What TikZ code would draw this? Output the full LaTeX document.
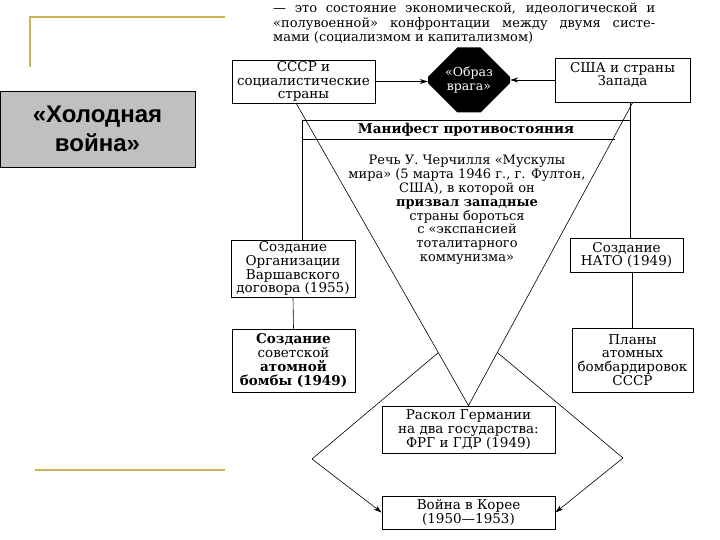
\documentclass[tikz,border=0pt]{standalone}
\usepackage{fontspec}
\setmainfont{DejaVu Serif}
\newfontfamily\titlefont{Liberation Sans}
\usetikzlibrary{arrows.meta,shapes.misc,calc}

\definecolor{gold}{RGB}{204,178,84}
\definecolor{slidegray}{RGB}{192,192,192}

\tikzset{
  box/.style={draw, line width=0.8pt, align=center, inner sep=1pt,
    font=\fontsize{13.5}{13.8}\selectfont},
  link/.style={line width=0.6pt},
  arrow/.style={link, -{Stealth[length=8pt,width=5pt]}},
  goldline/.style={line width=2.4pt, gold},
}

\begin{document}
\begin{tikzpicture}[x=1pt,y=-1pt]
  \useasboundingbox (0,0) rectangle (720,540);

  % Slide frame
  \draw[goldline] (30,67) -- (30,17) -- (225,17);
  \draw[goldline] (35,470) -- (225,470);
  \node[draw, fill=slidegray, line width=0.8pt, minimum width=195, minimum height=76,
    align=center, font=\titlefont\bfseries\fontsize{24}{29}\selectfont]
    (title) at (97.5,129) {«Холодная\\война»};

  % Definition
  \node[anchor=north west, inner sep=0pt, text width=382pt, align=justify,
    font=\fontsize{13}{14.5}\selectfont] (def) at (273,3)
    {— это состояние экономической, идеологической и\linebreak
     «полувоенной» конфронтации между двумя систе-\linebreak
     мами (социализмом и капитализмом)};

  % Top row
  \node[box, minimum width=143, minimum height=43] (ussr) at (303.5,81.5)
    {СССР и\\социалистические\\страны};
  \node[box, minimum width=135, minimum height=44, text depth=12pt] (usa) at (622.5,80)
    {США и страны\\Запада};
  \node[chamfered rectangle, chamfered rectangle xsep=20pt, chamfered rectangle ysep=16pt,
    fill=black, text=white, align=center, inner sep=0pt, minimum width=82, minimum height=65,
    font=\fontsize{12.5}{14.5}\selectfont] (enemy) at (469,80) {«Образ\\врага»};

  % Side boxes
  \node[box, minimum width=124, minimum height=57] (warsaw) at (293,268.5)
    {Создание\\Организации\\Варшавского\\договора (1955)};
  \node[box, minimum width=123, minimum height=63] (bomb) at (293.5,360.5)
    {\textbf{Создание}\\советской\\\textbf{атомной}\\\textbf{бомбы (1949)}};
  \node[box, minimum width=113, minimum height=34] (nato) at (626.5,255)
    {Создание\\НАТО (1949)};
  \node[box, minimum width=121, minimum height=64] (plans) at (632.5,360)
    {Планы\\атомных\\бомбардировок\\СССР};

  % Bottom boxes
  \node[box, minimum width=173, minimum height=47] (germany) at (468.5,429.5)
    {Раскол Германии\\на два государства:\\ФРГ и ГДР (1949)};
  \node[box, minimum width=173, minimum height=33] (korea) at (468.5,512.5)
    {Война в Корее\\(1950—1953)};

  % Manifest band
  \coordinate (mtl) at (302,120);
  \coordinate (mtr) at (630,120);
  \coordinate (mbl) at (302,139);
  \coordinate (mbr) at (615,139);
  \node[font=\bfseries\fontsize{13.5}{13.8}\selectfont] (manifest) at (466,129.5)
    {Манифест противостояния};
  \node[align=center, font=\fontsize{13}{13.8}\selectfont] (speech) at (467,210)
    {Речь У. Черчилля «Мускулы\\мира» (5 марта 1946 г., г. Фултон,\\США), в которой он\\
     \textbf{призвал западные}\\страны бороться\\с «экспансией\\тоталитарного\\коммунизма»};

  % Triangle corners
  \coordinate (vl) at (296,103);
  \coordinate (vr) at (633,102);
  \coordinate (dl) at (312,459);
  \coordinate (dr) at (623,458);

  \draw[arrow] (ussr.east) -- (ussr.east -| enemy.west);
  \draw[arrow] (usa.west) -- (usa.west -| enemy.east);

  \draw[link] (mtl) -- (mtr);
  \draw[link] (mbl) -- (mbr);
  \draw[link] (mtl) -- (warsaw.north -| mtl);
  \draw[link] (usa.south -| mtr) -- (nato.north -| mtr);
  \draw[link] (warsaw.south) -- (bomb.north);
  \draw[link] (plans.north |- nato.south) -- (plans.north);

  \draw[link] (vl) -- (germany.north) -- (vr);
  \draw[link] ($(vl)!0.825!(germany.north)$) -- (dl);
  \draw[link] ($(vr)!0.825!(germany.north)$) -- (dr);
  \draw[arrow] (dl) -- (korea.west);
  \draw[arrow] (dr) -- (korea.east);
\end{tikzpicture}
\end{document}
